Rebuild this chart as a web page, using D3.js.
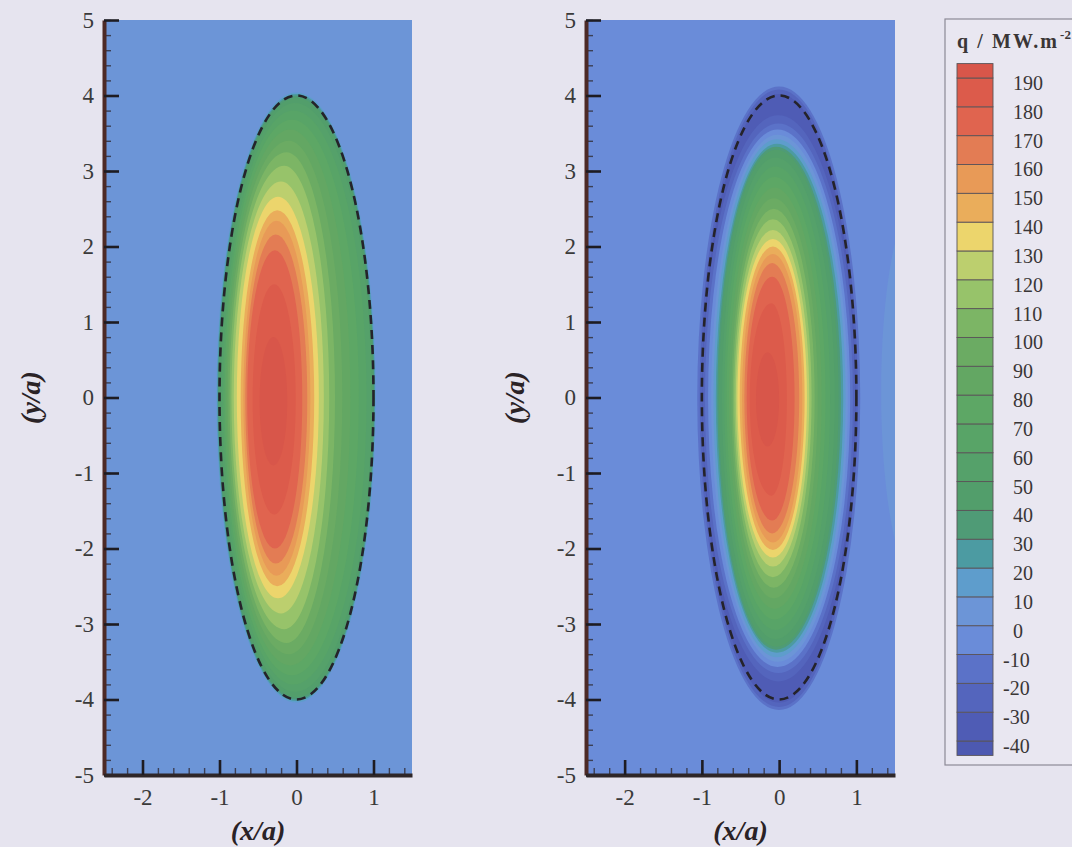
<!DOCTYPE html>
<html>
<head>
<meta charset="utf-8">
<style>
  body { margin: 0; background: #e6e4ef; }
  svg { display: block; }
  .tick text { font-family: "Liberation Serif", serif; font-size: 23px; fill: #3a3a3a; }
  .title { font-family: "Liberation Serif", serif; font-weight: bold; font-style: italic; font-size: 28px; fill: #2a2226; }
  .leg text { font-family: "Liberation Serif", serif; font-size: 20px; fill: #3a3636; }
</style>
</head>
<body>
<svg id="chart" width="1072" height="847"></svg>
<script src="https://cdn.jsdelivr.net/npm/d3@7"></script>
<script>
// contour levels and legend colours (band below -40 ... band above 190)
var levels = [-40, -30, -20, -10, 0, 10, 20, 30, 40, 50, 60, 70, 80, 90, 100, 110, 120, 130, 140, 150, 160, 170, 180, 190];
var bandColors = ["#4d59b1", "#4f5cb5", "#5465bd", "#5b72c8", "#6a8cd9", "#6c95d7", "#5e9dcc", "#4c9ba2",
                  "#4f9b76", "#529e6b", "#55a16a", "#58a467", "#5da765", "#63a763", "#6bab63", "#7cb565",
                  "#97c36a", "#bccf6e", "#ecd56c", "#eaad5b", "#e89a57", "#e37c54", "#e0644f", "#dc5b4b", "#d8564a"];

var xTicks = [-2, -1, 0, 1];
var yTicks = [-5, -4, -3, -2, -1, 0, 1, 2, 3, 4, 5];

// dashed contact ellipse semi-axes (x/a, y/a)
var contactA = 1, contactB = 4;

// left plot: iso-q regions, outer to inner (band = lower bound of the colour band inside)
var leftBand = [10, 20, 30, 40, 50, 60, 70, 80, 90, 100, 110, 120, 130, 140, 150, 160, 170, 180, 190];
var leftXl = [-1.04, -1.03, -1.02, -1.01, -0.98, -0.955, -0.935, -0.915, -0.895, -0.87, -0.845, -0.815, -0.775, -0.725, -0.69, -0.665, -0.64, -0.57, -0.48];
var leftXc = [0, 0, 0, 0, -0.02, -0.04, -0.06, -0.08, -0.1, -0.13, -0.16, -0.2, -0.24, -0.25, -0.26, -0.27, -0.28, -0.29, -0.3];
var leftXr = [1.03, 1.02, 1.01, 1.0, 0.975, 0.91, 0.81, 0.7, 0.595, 0.5, 0.425, 0.355, 0.29, 0.23, 0.18, 0.14, 0.075, -0.01, -0.12];
var leftYt = [4.04, 4.02, 4.0, 3.97, 3.9, 3.8, 3.68, 3.55, 3.4, 3.25, 3.07, 2.86, 2.66, 2.48, 2.34, 2.16, 1.95, 1.5, 0.8];
var leftYb = [-4.04, -4.02, -4.0, -3.97, -3.9, -3.8, -3.68, -3.55, -3.4, -3.25, -3.07, -2.86, -2.66, -2.5, -2.36, -2.2, -2.0, -1.55, -0.9];

// right plot: far-field q slightly below 0, negative rim, then positive core
var rightBackground = -10;
var rightBand = [0, -20, -30, -40, -30, -20, -10, 0, 10, 20, 30, 40, 50, 60, 70, 80, 90, 100, 110, 120, 130, 140, 150, 160, 170, 180, 190];
var rightXl = [1.32, -1.06, -1.03, -1.0, -0.995, -0.96, -0.92, -0.88, -0.85, -0.82, -0.8, -0.78, -0.74, -0.71, -0.68, -0.65, -0.62, -0.6, -0.58, -0.56, -0.54, -0.51, -0.48, -0.45, -0.42, -0.38, -0.3];
var rightXc = [1.8, 0, 0, 0, -0.01, -0.01, -0.02, -0.02, -0.03, -0.03, -0.04, -0.04, -0.05, -0.05, -0.06, -0.06, -0.07, -0.07, -0.08, -0.08, -0.08, -0.08, -0.08, -0.09, -0.09, -0.1, -0.15];
var rightXr = [2.3, 1.05, 1.02, 0.99, 0.985, 0.955, 0.92, 0.89, 0.86, 0.83, 0.8, 0.77, 0.72, 0.66, 0.6, 0.55, 0.5, 0.46, 0.42, 0.39, 0.36, 0.33, 0.3, 0.26, 0.2, 0.1, 0.0];
var rightYt = [2.6, 4.12, 4.08, 4.02, 3.74, 3.63, 3.55, 3.48, 3.42, 3.36, 3.32, 3.28, 3.18, 3.06, 2.92, 2.78, 2.64, 2.5, 2.36, 2.22, 2.1, 2.0, 1.9, 1.78, 1.6, 1.25, 0.6];
var rightYb = [-2.45, -4.14, -4.1, -4.04, -3.76, -3.65, -3.57, -3.5, -3.44, -3.38, -3.34, -3.3, -3.2, -3.08, -2.94, -2.8, -2.66, -2.52, -2.38, -2.24, -2.12, -2.02, -1.92, -1.8, -1.63, -1.3, -0.65];

var svg = d3.select("#chart");
var color = d3.scaleThreshold().domain(levels).range(bandColors);

function zip(band, xl, xc, xr, yt, yb) {
    return band.map(function(b, i) {
        return {band: b, xl: xl[i], xc: xc[i], xr: xr[i], yt: yt[i], yb: yb[i]};
    });
}

function regionPath(x, y) {
    return function(d) {
        var cx = x(d.xc), top = y(d.yt), bot = y(d.yb);
        var rR = x(d.xr) - cx, rL = cx - x(d.xl), ry = (bot - top) / 2;
        return "M" + cx + "," + top +
               "A" + rR + "," + ry + " 0 0 1 " + cx + "," + bot +
               "A" + rL + "," + ry + " 0 0 1 " + cx + "," + top + "Z";
    };
}

function minus(d) { return d < 0 ? "-" + Math.abs(d) : d; }

function drawPlot(id, left, right, regions, bg, titleX) {
    var x = d3.scaleLinear().domain([-2.5, 1.5]).range([left, right]);
    var y = d3.scaleLinear().domain([-5, 5]).range([775, 20]);

    svg.append("clipPath").attr("id", "clip" + id)
      .append("rect")
        .attr("x", left).attr("y", y(5))
        .attr("width", right - left).attr("height", y(-5) - y(5));

    var g = svg.append("g").attr("clip-path", "url(#clip" + id + ")");

    g.append("rect")
        .attr("x", left).attr("y", y(5))
        .attr("width", right - left).attr("height", y(-5) - y(5))
        .attr("fill", color(bg));

    g.selectAll(".region")
        .data(regions)
      .enter().append("path")
        .attr("class", "region")
        .attr("d", regionPath(x, y))
        .attr("fill", function(d) { return color(d.band); });

    g.append("ellipse")
        .attr("cx", x(0)).attr("cy", y(0))
        .attr("rx", x(contactA) - x(0)).attr("ry", y(0) - y(contactB))
        .attr("fill", "none")
        .attr("stroke", "#25232a")
        .attr("stroke-width", 2.6)
        .attr("stroke-dasharray", "9,6");

    // minor ticks
    svg.append("g")
        .attr("transform", "translate(" + left + ",0)")
        .call(d3.axisLeft(y).ticks(50).tickSize(-7).tickFormat(""))
        .call(function(a) { a.select(".domain").remove(); a.selectAll("line").attr("stroke", "#3b3f55").attr("stroke-width", 1.4); });
    svg.append("g")
        .attr("transform", "translate(0,775)")
        .call(d3.axisBottom(x).ticks(20).tickSize(-7).tickFormat(""))
        .call(function(a) { a.select(".domain").remove(); a.selectAll("line").attr("stroke", "#3b3f55").attr("stroke-width", 1.4); });

    // major ticks
    svg.append("g")
        .attr("transform", "translate(" + left + ",0)")
        .call(d3.axisLeft(y).tickValues(yTicks).tickSize(-15).tickSizeOuter(0).tickPadding(10).tickFormat(minus))
        .call(function(a) {
            a.select(".domain").attr("stroke", "#4d2a26").attr("stroke-width", 4);
            a.selectAll("line").attr("stroke", "#1e1c22").attr("stroke-width", 2.6);
        });
    svg.append("g")
        .attr("transform", "translate(0,775)")
        .call(d3.axisBottom(x).tickValues(xTicks).tickSize(-15).tickSizeOuter(0).tickPadding(14).tickFormat(minus))
        .call(function(a) {
            a.select(".domain").attr("stroke", "#2e2628").attr("stroke-width", 4);
            a.selectAll("line").attr("stroke", "#1e1c22").attr("stroke-width", 2.6);
        });

    svg.append("text")
        .attr("class", "title")
        .attr("x", (left + right) / 2)
        .attr("y", 840)
        .attr("text-anchor", "middle")
        .text("(x/a)");

    svg.append("text")
        .attr("class", "title")
        .attr("transform", "translate(" + titleX + "," + y(0) + ") rotate(-90)")
        .attr("text-anchor", "middle")
        .attr("dy", "0.35em")
        .text("(y/a)");
}

drawPlot("L", 104, 412, zip(leftBand, leftXl, leftXc, leftXr, leftYt, leftYb), 0, 30);
drawPlot("R", 586, 895, zip(rightBand, rightXl, rightXc, rightXr, rightYt, rightYb), rightBackground, 514);

// legend
var leg = svg.append("g").attr("class", "leg");
var ly = d3.scaleLinear().domain([-40, 190]).range([741, 78]);

leg.append("rect")
    .attr("x", 945).attr("y", 19)
    .attr("width", 140).attr("height", 746)
    .attr("fill", "#e9e7f1")
    .attr("stroke", "#8c8a96")
    .attr("stroke-width", 1.2);

var title = leg.append("text")
    .attr("x", 957).attr("y", 48)
    .attr("font-weight", "bold")
    .attr("font-size", 20);
title.append("tspan").attr("textLength", 100).attr("lengthAdjust", "spacing").text("q / MW.m");
title.append("tspan").attr("font-size", 13).attr("dx", 1).attr("dy", -9).text("-2");

var step = levels[1] - levels[0];
var boxes = d3.range(bandColors.length).map(function(i) {
    var lo = i === 0 ? levels[0] - step / 2 : levels[i - 1];
    var hi = i === levels.length ? levels[levels.length - 1] + step / 2 : levels[i];
    return {lo: lo, hi: hi, c: bandColors[i]};
});

leg.selectAll(".box")
    .data(boxes)
  .enter().append("rect")
    .attr("class", "box")
    .attr("x", 957).attr("width", 36)
    .attr("y", function(d) { return ly(d.hi); })
    .attr("height", function(d) { return ly(d.lo) - ly(d.hi); })
    .attr("fill", function(d) { return d.c; })
    .attr("stroke", "#5a5458")
    .attr("stroke-width", 0.9);

leg.selectAll(".lab")
    .data(levels)
  .enter().append("text")
    .attr("class", "lab")
    .attr("x", function(d) { return d < 0 ? 1003 : 1013; })
    .attr("y", function(d) { return ly(d) + 5; })
    .attr("dy", "0.35em")
    .text(minus);
</script>
</body>
</html>
